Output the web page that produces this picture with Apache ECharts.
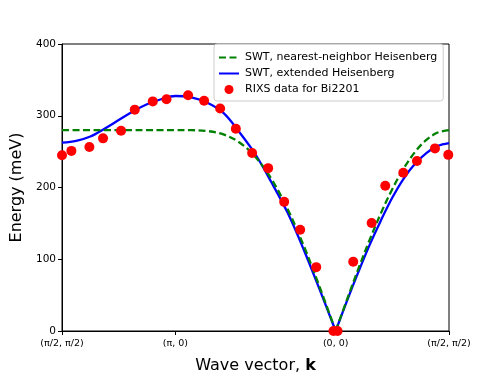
<!DOCTYPE html>
<html>
<head>
<meta charset="UTF-8">
<title>SWT vs RIXS</title>
<style>
  html, body { margin: 0; padding: 0; background: #fff; }
  #chart { width: 498px; height: 373px; }
</style>
</head>
<body>
<div id="chart"></div>
<script src="https://cdn.jsdelivr.net/npm/echarts@6/dist/echarts.min.js"></script>
<script>
// path coordinate along (pi/2,pi/2) -> (pi,0) -> (0,0) -> (pi/2,pi/2)
var tickPos = [0, 2.221, 5.363, 7.584];
var tickLabels = ['(π/2, π/2)', '(π, 0)', '(0, 0)', '(π/2, π/2)'];
var yTicks = [0, 100, 200, 300, 400];

// x positions for the two model curves
var lineK = [0, 0.278, 0.555, 0.833, 1.111, 1.388, 1.666, 1.943, 2.221,
             2.535, 2.849, 3.163, 3.477, 3.792, 4.106, 4.420, 4.734, 5.048, 5.363,
             5.585, 5.807, 6.029, 6.252, 6.474, 6.696, 6.918, 7.140, 7.362, 7.584];
var cusp = 18; // index of (0,0)

// SWT, nearest-neighbor Heisenberg
var nnE = [280, 280, 280, 280, 280, 280, 280, 280, 280,
           279.9, 278.7, 274, 262.8, 242.5, 211.7, 170.2, 119.4, 61.5, 0,
           43.8, 86.5, 127.1, 164.6, 198, 226.5, 249.5, 266.3, 276.6, 280];

// SWT, extended Heisenberg
var extE = [262.5, 265, 271, 282, 294, 306, 316, 323, 327.5,
            325.5, 318, 304, 277, 246, 207, 165, 114, 58, 0,
            42, 82, 120, 154.5, 186, 212.5, 233, 248, 258, 262];

// RIXS data for Bi2201
var rixsK = [0, 0.184, 0.537, 0.804, 1.157, 1.426, 1.779, 2.048, 2.471, 2.785, 3.099,
             3.407, 3.726, 4.040, 4.354, 4.668, 4.982, 5.32, 5.40, 5.707, 6.068,
             6.335, 6.688, 6.956, 7.309, 7.570];
var rixsE = [245, 251, 256.5, 268.5, 279, 308.5, 320, 323, 328.5, 321, 310,
             282, 248, 227, 180, 141, 89, 0, 0, 96.5, 150.5,
             202.5, 220.5, 237, 254.5, 245.5];

var NN = 'SWT, nearest-neighbor Heisenberg';
var EXT = 'SWT, extended Heisenberg';
var RIXS = 'RIXS data for Bi2201';
var FONT = 'DejaVu Sans';

function pairs(xs, ys, a, b) {
    var res = [];
    for (var i = a; i <= b; i++) res.push([xs[i], ys[i]]);
    return res;
}

function lineSeries(name, ys, a, b, color, type) {
    return {
        name: name,
        type: 'line',
        data: pairs(lineK, ys, a, b),
        smooth: 0.35,
        symbol: 'none',
        clip: true,
        lineStyle: { color: color, width: 2.3, type: type, cap: 'butt' },
        itemStyle: { color: color },
        z: name == NN ? 3 : 2
    };
}

var chart = echarts.init(document.getElementById('chart'), null, { renderer: 'canvas' });

// no marker on the line entries of the legend
var noMarker = { color: 'rgba(0,0,0,0)', borderWidth: 0 };

var option = {
    animation: false,
    textStyle: { fontFamily: FONT },
    grid: {
        left: 62, right: 49, top: 44, bottom: 42,
        outerBoundsMode: 'none',
        containLabel: false,
        show: true, borderColor: '#000', borderWidth: 1, backgroundColor: 'transparent'
    },
    legend: {
        left: 214, top: 44,
        orient: 'vertical',
        data: [
            { name: NN, itemStyle: noMarker },
            { name: EXT, itemStyle: noMarker },
            { name: RIXS }
        ],
        itemWidth: 20, itemHeight: 9, itemGap: 5,
        padding: [8, 6, 6, 4],
        backgroundColor: 'rgba(255,255,255,0.8)',
        borderColor: '#cccccc', borderWidth: 1, borderRadius: 3,
        textStyle: { fontFamily: FONT, fontSize: 11, color: '#000', padding: [0, 0, 0, 1] }
    },
    xAxis: {
        type: 'value',
        min: tickPos[0], max: tickPos[tickPos.length - 1],
        name: 'Wave vector, {b|k}',
        nameLocation: 'middle',
        nameGap: 27,
        nameTextStyle: {
            fontFamily: FONT, fontSize: 16, color: '#000',
            rich: { b: { fontFamily: FONT, fontSize: 16, fontWeight: 'bold', color: '#000' } }
        },
        axisLine: { show: true, onZero: false, lineStyle: { color: '#000', width: 1 } },
        axisTick: { show: true, length: 4, customValues: tickPos, lineStyle: { color: '#000' } },
        axisLabel: {
            customValues: tickPos,
            margin: 8,
            fontFamily: FONT, fontSize: 9.5, color: '#000',
            formatter: function (v) {
                for (var i = 0; i < tickPos.length; i++) {
                    if (Math.abs(tickPos[i] - v) < 1e-6) return tickLabels[i];
                }
                return '';
            }
        },
        splitLine: { show: false }
    },
    yAxis: {
        type: 'value',
        min: yTicks[0], max: yTicks[yTicks.length - 1], interval: 100,
        name: 'Energy (meV)',
        nameLocation: 'middle',
        nameGap: 28,
        nameTextStyle: { fontFamily: FONT, fontSize: 16, color: '#000' },
        axisLine: { show: true, lineStyle: { color: '#000', width: 1 } },
        axisTick: { show: true, length: 4, lineStyle: { color: '#000' } },
        axisLabel: { margin: 6, fontFamily: FONT, fontSize: 10.5, color: '#000' },
        splitLine: { show: false }
    },
    series: [
        lineSeries(NN, nnE, 0, cusp, '#008000', [7, 3.5]),
        lineSeries(NN, nnE, cusp, lineK.length - 1, '#008000', [7, 3.5]),
        lineSeries(EXT, extE, 0, cusp, '#0000ff', 'solid'),
        lineSeries(EXT, extE, cusp, lineK.length - 1, '#0000ff', 'solid'),
        {
            name: RIXS,
            type: 'scatter',
            data: pairs(rixsK, rixsE, 0, rixsK.length - 1),
            symbol: 'circle',
            symbolSize: 10,
            itemStyle: { color: '#ff0000', opacity: 1 },
            z: 5
        }
    ]
};

chart.setOption(option);
</script>
</body>
</html>
